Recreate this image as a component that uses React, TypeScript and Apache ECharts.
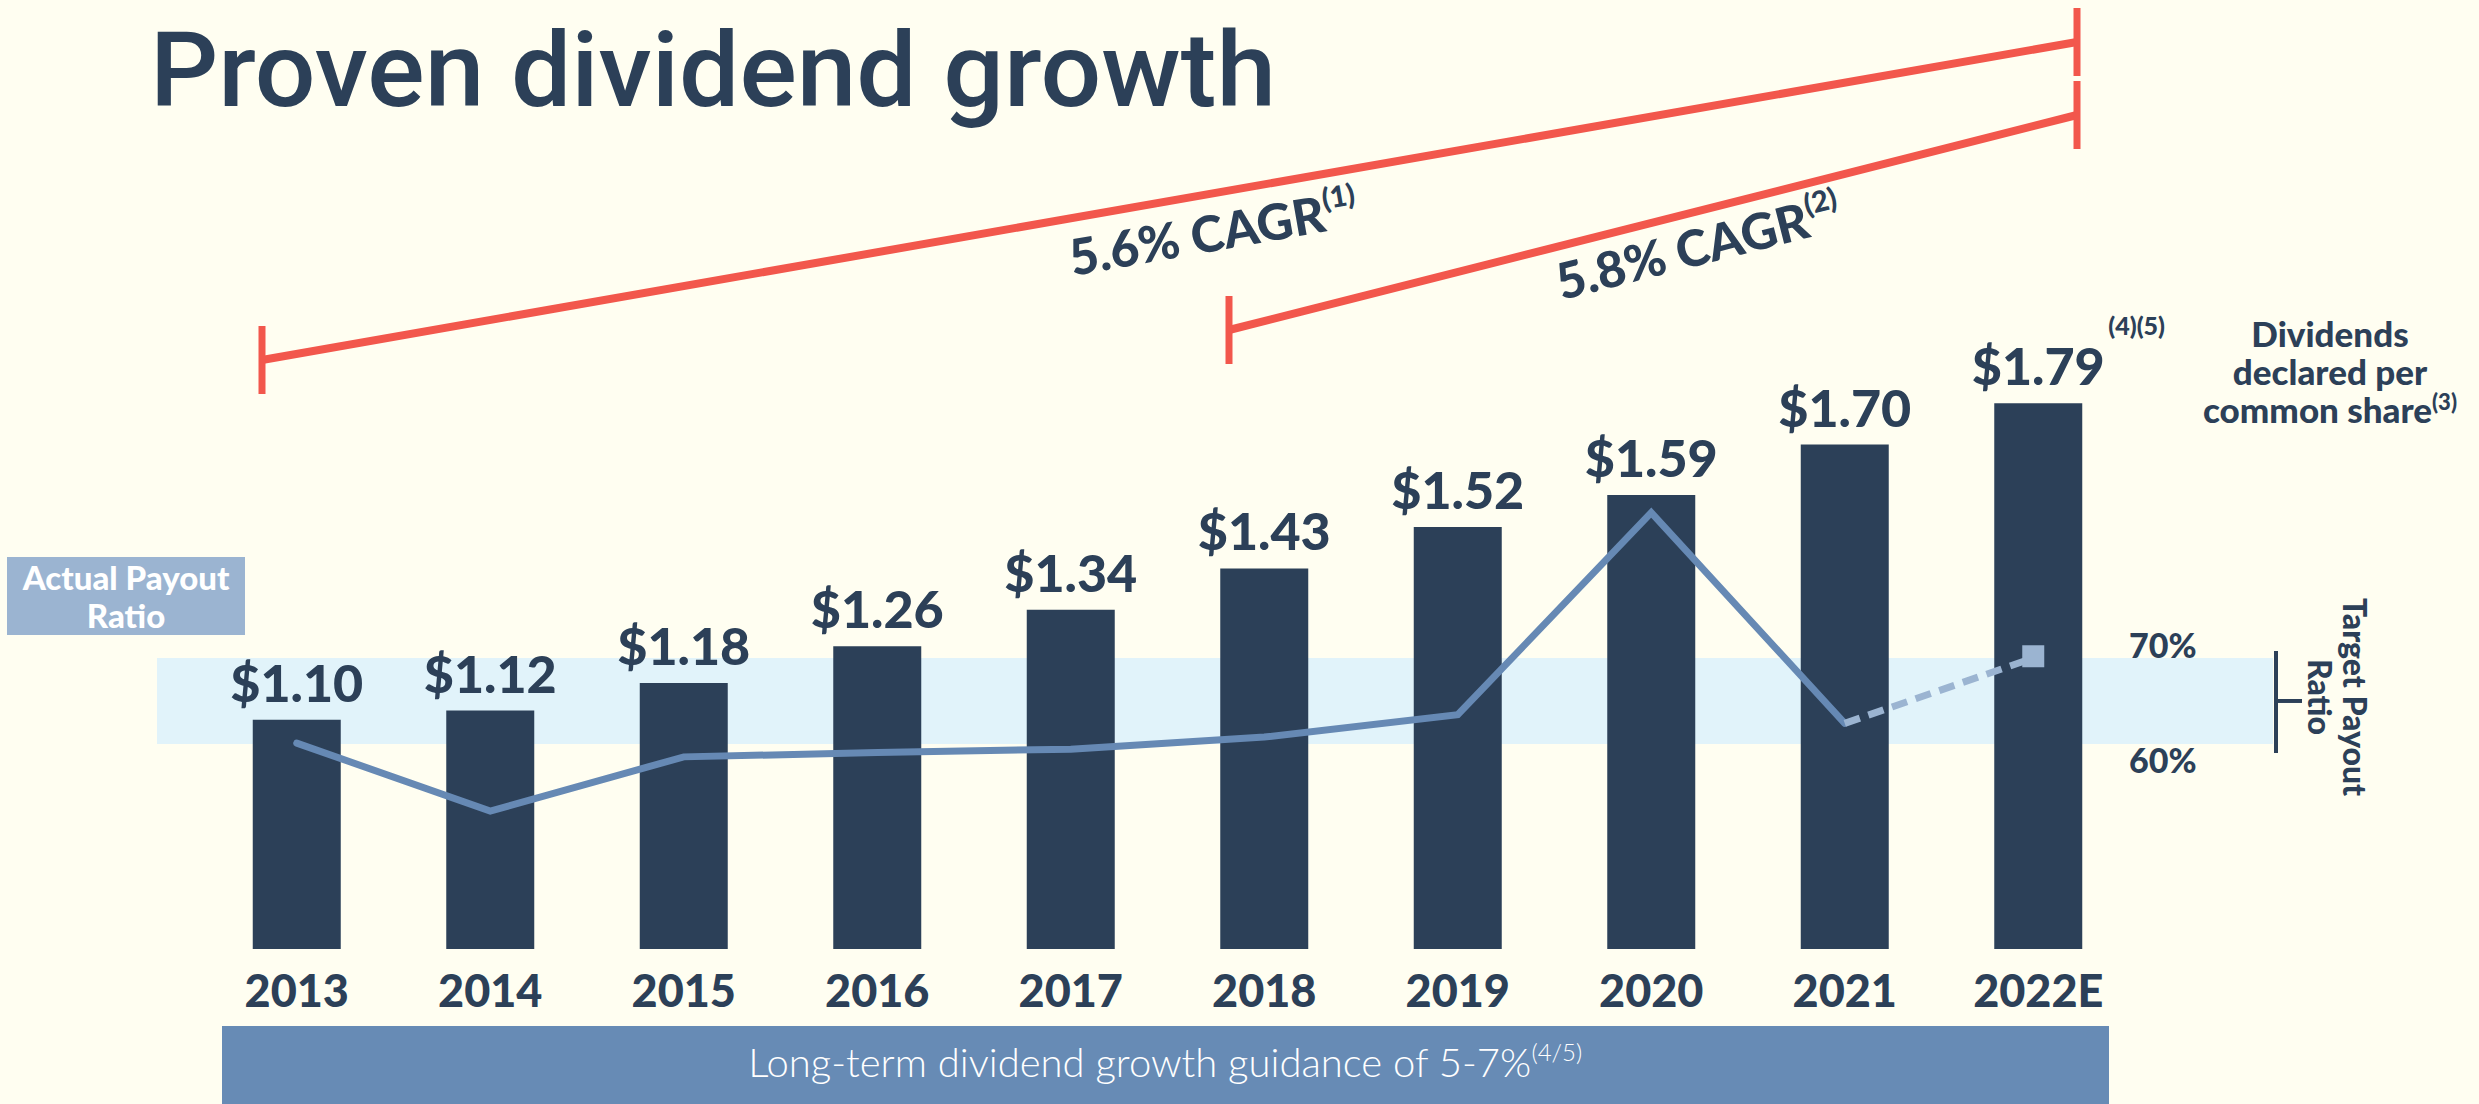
import React, { useEffect, useRef } from 'react';
import * as echarts from 'echarts';

const years = ['2013', '2014', '2015', '2016', '2017', '2018', '2019', '2020', '2021', '2022E'];
const dividends = [1.10, 1.12, 1.18, 1.26, 1.34, 1.43, 1.52, 1.59, 1.70, 1.79];
const payoutActual = [60.1, 52.2, 58.5, 59.0, 59.4, 60.8, 63.4, 86.9, 62.4, null];
const payoutEstimate = [null, null, null, null, null, null, null, null, 62.4, 70.2];
const targetLow = 60;
const targetHigh = 70;
const cagrTexts = ['5.6% CAGR', '5.8% CAGR'];
const cagrNotes = ['(1)', '(2)'];

const NAVY = '#2C4058';
const RED = '#F2574C';
const LINE = '#6689B4';
const LIGHT = '#9BB4D1';
const BG = '#FFFEF1';
const FONT = 'Lato, "Open Sans", sans-serif';
const HEAVY = '900';

export default function App() {
  const ref = useRef<HTMLDivElement>(null);
  useEffect(() => {
    document.body.style.margin = '0';
    document.body.style.background = BG;
    const chart = echarts.init(ref.current!, null, { renderer: 'svg' });
    const option: any = {
      animation: false,
      backgroundColor: BG,
      grid: { left: 200, right: 344, top: 307, bottom: 155 },
      xAxis: {
        type: 'category',
        data: years,
        axisLine: { show: false },
        axisTick: { show: false },
        axisLabel: {
          color: NAVY,
          fontFamily: FONT,
          fontWeight: HEAVY,
          fontSize: 45,
          margin: 18,
        },
      },
      yAxis: [
        { type: 'value', min: 0.6, max: 2.0, show: false },
        { type: 'value', min: 36.16, max: 110.81, show: false },
      ],
      series: [
        {
          type: 'bar',
          data: dividends,
          barWidth: 88,
          itemStyle: { color: NAVY },
          z: 2,
          label: {
            show: true,
            position: 'top',
            distance: 12,
            color: NAVY,
            fontFamily: FONT,
            fontWeight: HEAVY,
            fontSize: 52,
            formatter: (p: any) => '$' + Number(p.value).toFixed(2),
          },
        },
        {
          type: 'line',
          yAxisIndex: 1,
          data: payoutActual,
          symbol: 'none',
          lineStyle: { color: LINE, width: 7, cap: 'round', join: 'miter' },
          z: 4,
        },
        {
          type: 'line',
          yAxisIndex: 1,
          data: payoutEstimate.map((v, i) =>
            v == null ? null : i === payoutEstimate.length - 1
              ? { value: v, symbol: 'rect', symbolSize: 22, symbolOffset: [-5, 0] }
              : { value: v, symbol: 'none' }
          ),
          lineStyle: { color: LIGHT, width: 7, type: [16, 9] },
          itemStyle: { color: LIGHT },
          showSymbol: true,
          z: 4,
        },
      ],
    };
    chart.setOption(option);

    const y60 = chart.convertToPixel({ yAxisIndex: 1 }, targetLow) as number;
    const y70 = chart.convertToPixel({ yAxisIndex: 1 }, targetHigh) as number;
    const top179 = chart.convertToPixel({ xAxisIndex: 0, yAxisIndex: 0 }, ['2022E', dividends[9]]) as number[];

    const a1 = Math.atan2(360 - 42, 2077 - 262);
    const a2 = Math.atan2(330 - 115, 2077 - 1229);

    const graphic: any[] = [
      {
        type: 'rect',
        z: 0,
        shape: { x: 157, y: y70, width: 2273 - 157, height: y60 - y70 },
        style: { fill: '#E1F3FA' },
      },
      {
        type: 'text',
        x: 150,
        y: 71,
        scaleX: 1.03,
        style: {
          text: 'Proven dividend growth',
          font: '500 104px Roboto, sans-serif',
          fill: NAVY,
          textVerticalAlign: 'middle',
          verticalAlign: 'middle',
        },
      },
      { type: 'line', shape: { x1: 262, y1: 360, x2: 2077, y2: 42 }, style: { stroke: RED, lineWidth: 8 } },
      { type: 'line', shape: { x1: 262, y1: 326, x2: 262, y2: 394 }, style: { stroke: RED, lineWidth: 7 } },
      { type: 'line', shape: { x1: 2077, y1: 8, x2: 2077, y2: 76 }, style: { stroke: RED, lineWidth: 7 } },
      { type: 'line', shape: { x1: 1229, y1: 330, x2: 2077, y2: 115 }, style: { stroke: RED, lineWidth: 8 } },
      { type: 'line', shape: { x1: 1229, y1: 296, x2: 1229, y2: 364 }, style: { stroke: RED, lineWidth: 7 } },
      { type: 'line', shape: { x1: 2077, y1: 81, x2: 2077, y2: 149 }, style: { stroke: RED, lineWidth: 7 } },
      {
        type: 'text',
        x: 1213,
        y: 232,
        rotation: a1,
        style: {
          text: `{m|${cagrTexts[0]}}{s|${cagrNotes[0]}}`,
          textAlign: 'center',
          textVerticalAlign: 'middle',
          rich: {
            m: { font: `${HEAVY} 50px ${FONT}`, fill: NAVY, lineHeight: 58 },
            s: { font: `${HEAVY} 29px ${FONT}`, fill: NAVY, textVerticalAlign: 'top', verticalAlign: 'top', lineHeight: 58 },
          },
        },
      },
      {
        type: 'text',
        x: 1698,
        y: 246,
        rotation: a2,
        style: {
          text: `{m|${cagrTexts[1]}}{s|${cagrNotes[1]}}`,
          textAlign: 'center',
          textVerticalAlign: 'middle',
          rich: {
            m: { font: `${HEAVY} 50px ${FONT}`, fill: NAVY, lineHeight: 58 },
            s: { font: `${HEAVY} 29px ${FONT}`, fill: NAVY, textVerticalAlign: 'top', verticalAlign: 'top', lineHeight: 58 },
          },
        },
      },
      {
        type: 'text',
        x: top179[0] + 70,
        y: top179[1] - 78,
        style: {
          text: '(4)(5)',
          font: `${HEAVY} 25px ${FONT}`,
          fill: NAVY,
          textVerticalAlign: 'middle',
        },
      },
      {
        type: 'text',
        x: 2330,
        y: 371,
        style: {
          text: '{t|Dividends}\n{t|declared per}\n{t|common share}{s|(3)}',
          textAlign: 'center',
          textVerticalAlign: 'middle',
          rich: {
            t: { font: `${HEAVY} 35px ${FONT}`, fill: NAVY, lineHeight: 38 },
            s: { font: `${HEAVY} 22px ${FONT}`, fill: NAVY, lineHeight: 38, textVerticalAlign: 'top', verticalAlign: 'top' },
          },
        },
      },
      {
        type: 'rect',
        shape: { x: 7, y: 557, width: 238, height: 78 },
        style: { fill: LIGHT },
      },
      {
        type: 'text',
        x: 126,
        y: 596,
        style: {
          text: 'Actual Payout\nRatio',
          font: `${HEAVY} 33px ${FONT}`,
          lineHeight: 38,
          fill: '#FFFFFF',
          textAlign: 'center',
          textVerticalAlign: 'middle',
        },
      },
      {
        type: 'text',
        x: 2129,
        y: y70 - 13,
        style: { text: targetHigh + '%', font: `${HEAVY} 34px ${FONT}`, fill: NAVY, textVerticalAlign: 'middle' },
      },
      {
        type: 'text',
        x: 2129,
        y: y60 + 16,
        style: { text: targetLow + '%', font: `${HEAVY} 34px ${FONT}`, fill: NAVY, textVerticalAlign: 'middle' },
      },
      { type: 'line', shape: { x1: 2276, y1: y70 - 7, x2: 2276, y2: y60 + 9 }, style: { stroke: NAVY, lineWidth: 4 } },
      { type: 'line', shape: { x1: 2276, y1: (y60 + y70) / 2, x2: 2302, y2: (y60 + y70) / 2 }, style: { stroke: NAVY, lineWidth: 4 } },
      {
        type: 'text',
        x: 2338,
        y: 697,
        rotation: -Math.PI / 2,
        style: {
          text: 'Target Payout\nRatio',
          font: `${HEAVY} 32px ${FONT}`,
          lineHeight: 35,
          fill: NAVY,
          textAlign: 'center',
          textVerticalAlign: 'middle',
        },
      },
      {
        type: 'rect',
        shape: { x: 222, y: 1026, width: 1887, height: 78 },
        style: { fill: '#678BB5' },
      },
      {
        type: 'text',
        x: 1165,
        y: 1062,
        style: {
          text: '{m|Long-term dividend growth guidance of 5-7%}{s|(4/5)}',
          textAlign: 'center',
          textVerticalAlign: 'middle',
          rich: {
            m: { font: `300 40px ${FONT}`, fill: '#FFFFFF', lineHeight: 46 },
            s: { font: `300 24px ${FONT}`, fill: '#FFFFFF', lineHeight: 46, textVerticalAlign: 'top', verticalAlign: 'top' },
          },
        },
      },
    ];
    chart.setOption({ graphic });
    return () => chart.dispose();
  }, []);
  return <div ref={ref} style={{ width: 2479, height: 1104 }} />;
}
